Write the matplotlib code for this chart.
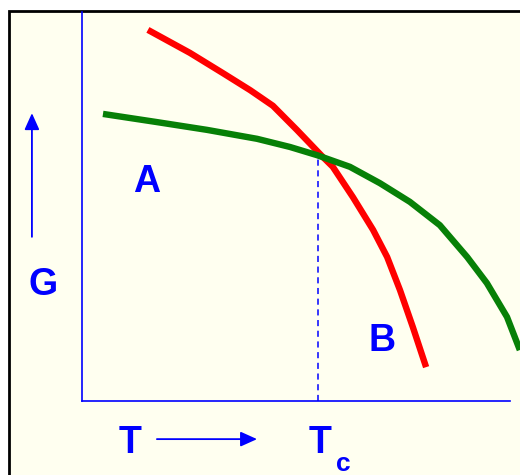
import matplotlib
matplotlib.use("Agg")
import matplotlib.pyplot as plt
from matplotlib.patches import Rectangle

# Data (T in arbitrary units 0-10, G in arbitrary units 0-10)
red_T = [1.54, 2.52, 3.29, 3.93, 4.46, 5.02, 5.63, 5.86, 6.33, 6.80, 7.13, 7.43, 7.73, 8.04]
red_G = [9.54, 8.95, 8.43, 7.99, 7.59, 6.97, 6.27, 6.02, 5.24, 4.40, 3.70, 2.85, 1.90, 0.87]
green_T = [0.49, 1.75, 2.92, 4.09, 4.86, 5.49, 6.26, 6.96, 7.66, 8.36, 9.00, 9.46, 9.93, 10.23]
green_G = [7.38, 7.17, 6.97, 6.74, 6.53, 6.32, 6.02, 5.60, 5.12, 4.52, 3.70, 3.03, 2.16, 1.31]
Tc = 5.51
Gc = 6.32
labels = {"A": (1.52, 5.63), "B": (7.01, 1.54), "G": (-0.91, 2.98)}

BLUE = "#0000FF"
RED = "#FF0000"
GREEN = "#078007"
BG = "#FFFFF0"

fig = plt.figure(figsize=(5.2, 4.75), dpi=100)
fig.patch.set_facecolor("white")

# cream panel with black frame (extends past right/bottom edges)
fig.add_artist(Rectangle((9 / 520, -0.1), 1.2, (475 - 11) / 475 + 0.1,
                         transform=fig.transFigure, facecolor=BG,
                         edgecolor="black", linewidth=2.0, zorder=0))

ax = fig.add_axes([82 / 520, 74 / 475, 428 / 520, 389 / 475])
ax.patch.set_visible(False)
ax.set_xlim(0, 10)
ax.set_ylim(0, 10)
for s in ["top", "right"]:
    ax.spines[s].set_visible(False)
for s in ["left", "bottom"]:
    ax.spines[s].set_color(BLUE)
    ax.spines[s].set_linewidth(1.2)
ax.set_xticks([])
ax.set_yticks([])

ax.plot([Tc, Tc], [0, Gc], color=BLUE, lw=1.1, ls=(0, (4, 3)), zorder=2)
ax.plot(red_T, red_G, color=RED, lw=4.6, solid_capstyle="butt",
        solid_joinstyle="round", clip_on=False, zorder=3)
ax.plot(green_T, green_G, color=GREEN, lw=4.6, solid_capstyle="butt",
        solid_joinstyle="round", clip_on=False, zorder=4)

fp = dict(family=["Liberation Sans", "DejaVu Sans"], fontweight="bold", color=BLUE)
for name, (x, y) in labels.items():
    ax.text(x, y, name, fontsize=27, ha="center", va="center", clip_on=False, **fp)

ax.text(1.12, -1.08, "T", fontsize=27, ha="center", va="center", clip_on=False, **fp)
ax.text(5.56, -1.08, "T", fontsize=27, ha="center", va="center", clip_on=False, **fp)
ax.text(6.10, -1.62, "c", fontsize=19, ha="center", va="center", clip_on=False, **fp)

ax.annotate("", xy=(-1.17, 7.40), xytext=(-1.17, 4.22), xycoords="data",
            annotation_clip=False,
            arrowprops=dict(arrowstyle="-|>,head_length=1.0,head_width=0.45",
                            color=BLUE, lw=1.3, shrinkA=0, shrinkB=0))
ax.annotate("", xy=(4.09, -0.98), xytext=(1.75, -0.98), xycoords="data",
            annotation_clip=False,
            arrowprops=dict(arrowstyle="-|>,head_length=1.0,head_width=0.45",
                            color=BLUE, lw=1.3, shrinkA=0, shrinkB=0))

fig.savefig("out.png", dpi=100, facecolor=fig.get_facecolor())
